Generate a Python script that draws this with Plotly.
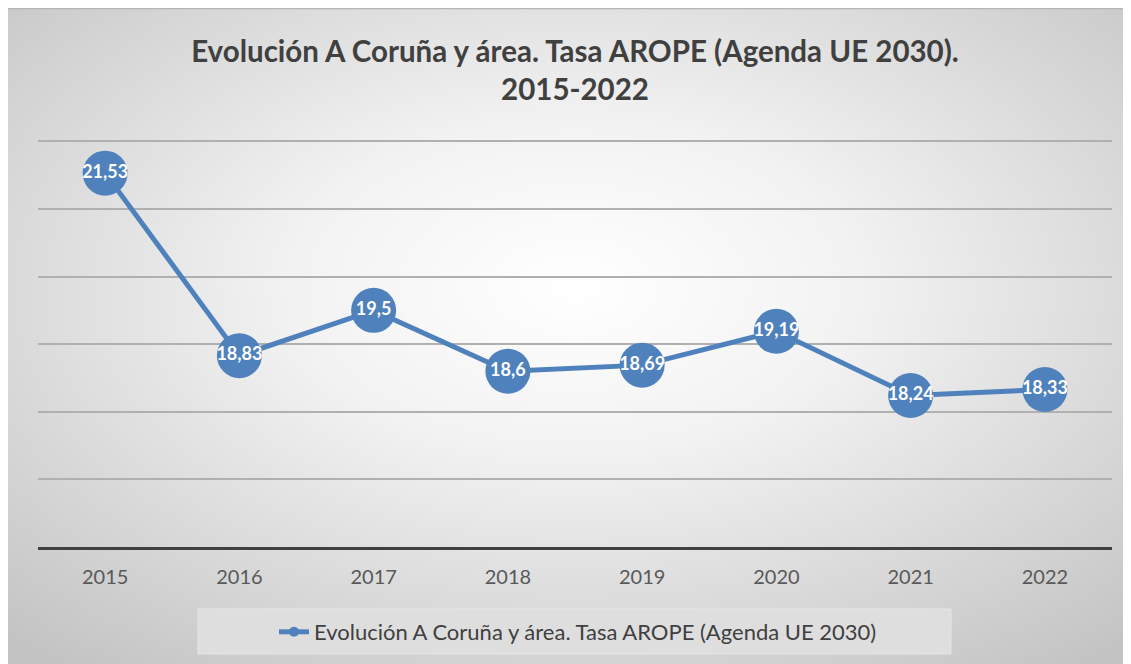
import base64
import plotly.graph_objects as go

anios = ["2015", "2016", "2017", "2018", "2019", "2020", "2021", "2022"]
tasa_arope = [21.53, 18.83, 19.5, 18.6, 18.69, 19.19, 18.24, 18.33]
etiquetas = ["21,53", "18,83", "19,5", "18,6", "18,69", "19,19", "18,24", "18,33"]
nombre_serie = "Evolución A Coruña y área. Tasa AROPE (Agenda UE 2030)"

AZUL = "#4F81BD"
W, H = 1131, 664
ML, MR, MT, MB = 30, 27, 132, 125
pw, ph = W - ML - MR, H - MT - MB


def px_x(p):
    return (p - ML) / pw


def px_y(p):
    return (H - MB - p) / ph


# fondo con degradado radial (como en Excel)
svg = (
    '<svg xmlns="http://www.w3.org/2000/svg" width="1131" height="664" preserveAspectRatio="none">'
    '<defs><radialGradient id="g" cx="0.5" cy="0.42" r="0.72">'
    '<stop offset="0" stop-color="#ffffff"/><stop offset="0.35" stop-color="#f2f2f2"/>'
    '<stop offset="1" stop-color="#c4c4c4"/></radialGradient></defs>'
    '<rect width="1131" height="664" fill="url(#g)"/></svg>'
)
fondo = "data:image/svg+xml;base64," + base64.b64encode(svg.encode()).decode()

fig = go.Figure()
fig.add_trace(go.Scatter(
    x=anios, y=tasa_arope, text=etiquetas,
    mode="lines+markers+text",
    line=dict(color=AZUL, width=5),
    marker=dict(color=AZUL, size=45),
    textposition="middle center",
    textfont=dict(family="Lato", size=18, color="white", weight="bold"),
    showlegend=False, hoverinfo="skip",
))
# entrada de leyenda con marcador pequeño
fig.add_trace(go.Scatter(
    x=[None], y=[None], name=nombre_serie,
    mode="lines+markers",
    line=dict(color=AZUL, width=5),
    marker=dict(color=AZUL, size=10),
))

fig.update_layout(
    width=W, height=H,
    margin=dict(l=ML, r=MR, t=MT, b=MB),
    paper_bgcolor="#d0d0d0",
    plot_bgcolor="rgba(0,0,0,0)",
    font=dict(family="Lato", color="#595959"),
    title=dict(
        text="Evolución A Coruña y área. Tasa AROPE (Agenda UE 2030).<br>2015-2022",
        x=px_x(567), xref="paper", xanchor="center",
        y=1 - 54 / H, yanchor="top",
        font=dict(family="Lato", size=29.5, color="#404040", weight="bold"),
    ),
    xaxis=dict(
        type="category", range=[-0.5, 7.5],
        showgrid=False, showline=True, linecolor="#404040", linewidth=3,
        ticks="", ticklabelstandoff=10, tickfont=dict(size=20, color="#595959"),
    ),
    yaxis=dict(
        range=[16, 22.02], dtick=1, showticklabels=False,
        showgrid=True, gridcolor="#b0b0b0", gridwidth=2, zeroline=False,
    ),
    legend=dict(
        orientation="h", x=px_x(570), xanchor="center",
        y=px_y(624), yanchor="middle",
        bgcolor="rgba(0,0,0,0)",
        font=dict(family="Lato", size=22, color="#404040"),
    ),
    images=[dict(
        source=fondo, xref="paper", yref="paper",
        x=px_x(0), y=px_y(0), sizex=W / pw, sizey=H / ph,
        xanchor="left", yanchor="top", sizing="stretch", layer="below",
    )],
    shapes=[
        dict(type="rect", xref="paper", yref="paper",
             x0=px_x(190), x1=px_x(943), y0=px_y(646), y1=px_y(601),
             fillcolor="#dedede", line=dict(color="#e6e6e6", width=1), layer="below"),
        dict(type="line", xref="paper", yref="paper",
             x0=px_x(0), x1=px_x(W), y0=px_y(0.5), y1=px_y(0.5),
             line=dict(color="#b5b5b5", width=1.5), layer="below"),
    ],
)

fig.write_html("out.html")
